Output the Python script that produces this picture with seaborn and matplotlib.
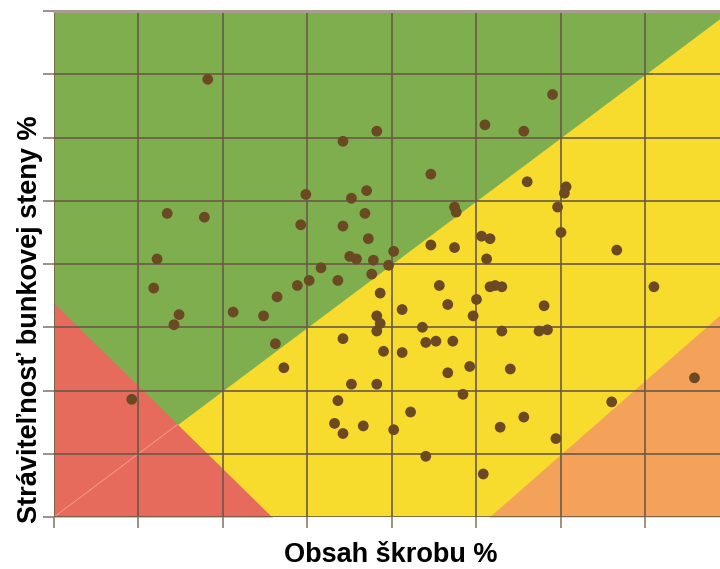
import numpy as np
import pandas as pd
import matplotlib
matplotlib.use("Agg")
import matplotlib.pyplot as plt
import seaborn as sns

# ---- data ----
starch = [19.1, 24.9, 16.7, 18.9, 24.6, 16.1, 15.9, 24.4, 29.1, 27.1,
          35.5, 32.3, 28.5, 27.6, 28.4, 27.1, 33.7, 33.8, 28.6, 27.5,
          27.9, 28.9, 30.1, 25.8, 29.8, 28.8, 25.1, 26.8, 32.3, 33.7,
          35.3, 35.8, 35.6, 32.8, 35.8, 36.1, 36.5, 29.3, 39.5, 37.8,
          38.0, 40.3, 40.2, 39.8, 40.0, 43.3, 45.5, 17.4, 17.1, 20.6,
          22.4, 23.2, 23.1, 23.6, 14.6, 30.6, 29.1, 29.3, 29.1, 31.8,
          33.3, 35.0, 34.8, 36.5, 27.1, 32.0, 32.6, 33.6, 29.5, 30.6,
          33.3, 34.6, 37.0, 27.6, 29.1, 34.2, 26.8, 31.1, 26.6, 28.3,
          27.1, 30.1, 36.4, 32.0, 35.4, 39.0, 38.7, 39.2, 47.9, 43.0,
          37.8, 39.7]
digestibility = [64.6, 55.5, 54.0, 53.7, 53.1, 50.4, 48.1, 48.3, 60.5, 59.7,
                 61.0, 57.1, 55.8, 55.2, 54.0, 53.0, 54.5, 54.1, 52.0, 50.6,
                 50.4, 50.3, 51.0, 49.7, 49.9, 49.2, 48.7, 48.7, 51.5, 51.3,
                 52.2, 52.0, 50.4, 48.3, 48.2, 48.3, 48.2, 47.7, 63.4, 60.5,
                 56.5, 56.1, 55.6, 54.5, 52.5, 51.1, 48.2, 46.0, 45.2, 46.2,
                 45.9, 47.4, 43.7, 41.8, 39.3, 46.4, 45.9, 45.3, 44.7, 45.0,
                 46.8, 47.2, 45.9, 44.7, 44.1, 43.8, 43.9, 43.9, 43.1, 43.0,
                 41.4, 41.9, 41.7, 40.5, 40.5, 39.7, 39.2, 38.3, 37.4, 37.2,
                 36.6, 36.9, 37.1, 34.8, 33.4, 46.7, 44.7, 44.8, 41.0, 39.1,
                 37.9, 36.2]

x_ticks = [10, 15, 20, 25, 30, 35, 40, 45]
y_ticks = [30, 35, 40, 45, 50, 55, 60, 65, 70]
x_label = "Obsah škrobu %"
y_label = "Stráviteľnosť bunkovej steny %"

df = pd.DataFrame({"starch": starch, "digestibility": digestibility})

# ---- style ----
sns.set_style("white")
plt.rcParams["font.family"] = ["Liberation Sans", "DejaVu Sans"]

GREEN = "#7FAE4F"
YELLOW = "#F8DC2D"
RED = "#E66B5C"
ORANGE = "#F4A25A"
GRID = "#6B5A47"
DOT = "#6B4A23"

fig = plt.figure(figsize=(7.2, 5.69), dpi=100)
ax = fig.add_axes([54 / 720, 52 / 569, 666 / 720, 506 / 569])

xmin, xmax = 10, 49.41
ymin, ymax = 30, 70
xs = np.linspace(xmin, xmax, 400)

# background zones
ax.fill_between(xs, ymin, ymax, color=YELLOW, lw=0, zorder=0.2)
ax.fill_between(xs, np.clip(xs + 20, ymin, ymax), ymax, color=GREEN, lw=0, zorder=0.3)
ax.fill_between(xs, ymin, np.clip(30 + 1.17 * (xs - 35.75), ymin, ymax),
                color=ORANGE, lw=0, zorder=0.4)
ax.fill_between(xs, ymin, np.clip(60 - 1.31 * xs, ymin, ymax), color=RED, lw=0, zorder=0.5)
xi = 40 / 2.31
ax.plot([10, xi], [30, xi + 20], color="#F1A093", lw=0.6, zorder=0.6)

sns.scatterplot(data=df, x="starch", y="digestibility", ax=ax, color=DOT,
                s=60, edgecolor="none", linewidth=0, zorder=3, legend=False)

ax.set_xlim(xmin, xmax)
ax.set_ylim(ymin, ymax)
ax.set_xticks(x_ticks)
ax.set_yticks(y_ticks)
ax.set_xticklabels([])
ax.set_yticklabels([])
ax.set_axisbelow("line")
ax.grid(True, color=GRID, lw=1.2)
ax.tick_params(axis="both", length=8, width=1.2, color="#8C7E6E", direction="out",
               bottom=True, left=True, top=False, right=False)
for s in ax.spines.values():
    s.set_visible(False)
ax.axhline(ymax, color="#A89C8E", lw=2.2, clip_on=False, zorder=2)
ax.set_xlabel("")
ax.set_ylabel("")

fig.text(391 / 720, 1 - 555 / 569, x_label, ha="center", va="center",
         fontsize=19.5, fontweight="bold", color="black")
fig.text(30 / 720, 1 - 319 / 569, y_label, ha="center", va="center",
         rotation=90, fontsize=19.5, fontweight="bold", color="black")

fig.savefig("out.png", dpi=100)
